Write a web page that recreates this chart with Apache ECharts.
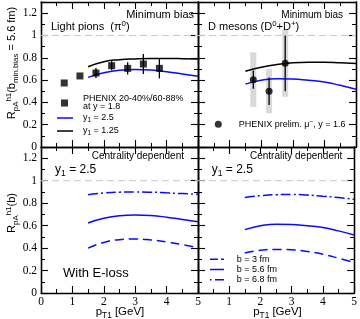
<!DOCTYPE html>
<html><head><meta charset="utf-8">
<script src="https://cdn.jsdelivr.net/npm/echarts@6/dist/echarts.min.js"></script>
<style>html,body{margin:0;padding:0;background:#fff}#c{width:360px;height:319px}</style>
</head><body><div id="c"></div>
<script>
// ---- data ----
const xCurve = [1.5, 2, 2.5, 3, 3.5, 4, 4.5, 5];
const xTicks = [0, 1, 2, 3, 4, 5];
const yTicks = [0, 0.2, 0.4, 0.6, 0.8, 1, 1.2];
// minimum bias, light pions
const piMB_y125 = [0.72, 0.765, 0.783, 0.79, 0.793, 0.793, 0.792, 0.79];
const piMB_y25  = [0.624, 0.665, 0.688, 0.695, 0.69, 0.675, 0.655, 0.634];
const phenixPiX = [0.74, 1.24, 1.75, 2.25, 2.76, 3.26, 3.77];
const phenixPiY = [0.574, 0.637, 0.663, 0.729, 0.705, 0.744, 0.705];
const phenixPiErr = [0, 0, 0.045, 0.04, 0.055, 0.09, 0.09];
// minimum bias, D mesons
const dMB_y125 = [0.68, 0.715, 0.74, 0.755, 0.76, 0.76, 0.755, 0.749];
const dMB_y25  = [0.564, 0.598, 0.612, 0.61, 0.598, 0.583, 0.553, 0.517];
const phenixMuX = [1.75, 2.25, 2.76];
const phenixMuY = [0.604, 0.50, 0.75];
const phenixMuStat = [0.082, 0.124, 0.25];
const phenixMuSys = [0.245, 0.198, 0.30];
// centrality dependent, light pions (y1 = 2.5)
const piCD_b3  = [0.40, 0.45, 0.475, 0.48, 0.472, 0.455, 0.43, 0.405];
const piCD_b56 = [0.624, 0.665, 0.688, 0.695, 0.69, 0.675, 0.655, 0.634];
const piCD_b68 = [0.875, 0.89, 0.898, 0.9, 0.898, 0.892, 0.885, 0.879];
// centrality dependent, D mesons (y1 = 2.5)
const dCD_b3  = [0.357, 0.38, 0.388, 0.385, 0.37, 0.345, 0.31, 0.271];
const dCD_b56 = [0.564, 0.598, 0.612, 0.61, 0.598, 0.583, 0.553, 0.517];
const dCD_b68 = [0.85, 0.866, 0.875, 0.877, 0.872, 0.862, 0.85, 0.834];
const refLine = [[0, 1], [5, 1]];

// ---- chart ----
const chart = echarts.init(document.getElementById('c'), null, {renderer: 'canvas', width: 360, height: 319});
const SANS = 'Liberation Sans', SERIF = 'Liberation Serif';
const BLUE = '#0a0aff';

const grids = [
  {left: 41, top: 2, width: 157, height: 145},
  {left: 198, top: 2, width: 158, height: 145},
  {left: 41, top: 147, width: 157, height: 146},
  {left: 198, top: 147, width: 158, height: 146}
];

function xAx(g, pos, labels, hideZero) {
  return {type: 'value', gridIndex: g, position: pos, min: 0, max: 5, interval: 1,
    axisLine: {onZero: false, lineStyle: {color: '#000', width: 1.3}},
    axisTick: {inside: true, length: 7, lineStyle: {color: '#000', width: 1.1}},
    minorTick: {show: true, splitNumber: 2, length: 4, lineStyle: {color: '#000', width: 1}},
    splitLine: {show: false}, minorSplitLine: {show: false},
    axisLabel: {show: labels, color: '#000', fontFamily: SERIF, fontSize: 11.5, margin: 3,
      formatter: v => (hideZero && v === xTicks[0]) ? '' : (xTicks.indexOf(v) >= 0 ? String(v) : '')}};
}
function yAx(g, pos, major, labels) {
  return {type: 'value', gridIndex: g, position: pos, min: 0, max: 1.3, interval: major ? 0.2 : 0.1,
    axisLine: {onZero: false, lineStyle: {color: '#000', width: 1.3}},
    axisTick: {inside: true, length: major ? 7 : 4, lineStyle: {color: '#000', width: major ? 1.1 : 1}},
    splitLine: {show: false},
    axisLabel: {show: labels, color: '#000', fontFamily: SERIF, fontSize: 11.5, margin: 4,
      formatter: v => { const t = yTicks.find(t => Math.abs(t - v) < 1e-6); return t === undefined ? '' : String(t); }}};
}
const xAxis = [], yAxis = [];
for (let g = 0; g < 4; g++) {
  xAxis.push(xAx(g, 'bottom', g >= 2, g === 3));
  xAxis.push(xAx(g, 'top', false, false));
  yAxis.push(yAx(g, 'left', true, g === 0 || g === 2));
  yAxis.push(yAx(g, 'left', false, false));
  yAxis.push(yAx(g, 'right', true, false));
  yAxis.push(yAx(g, 'right', false, false));
}

const series = [];
function curve(name, g, ys, color, type) {
  series.push({type: 'line', name, xAxisIndex: 2 * g, yAxisIndex: 4 * g,
    data: xCurve.map((x, i) => [x, ys[i]]), smooth: true, symbol: 'none', silent: true,
    lineStyle: {color, width: 1.5, type: type || 'solid'}, itemStyle: {color}, z: 3});
}
for (let g = 0; g < 4; g++) {
  series.push({type: 'line', xAxisIndex: 2 * g, yAxisIndex: 4 * g, data: refLine, symbol: 'none', silent: true,
    lineStyle: {color: '#c8c8c8', width: 1, type: [7, 4]}, z: 1});
}
// grey systematic bands (top-right)
series.push({type: 'custom', xAxisIndex: 2, yAxisIndex: 4, silent: true, z: 2,
  data: phenixMuX.map((x, i) => [x, phenixMuY[i] - phenixMuSys[i], phenixMuY[i] + phenixMuSys[i]]),
  renderItem: (p, api) => {
    const lo = api.coord([api.value(0), api.value(1)]), hi = api.coord([api.value(0), api.value(2)]);
    return {type: 'rect', shape: {x: lo[0] - 3, y: hi[1], width: 6, height: lo[1] - hi[1]}, style: {fill: '#d9d9d9'}};
  }});
curve('y1 = 2.5', 0, piMB_y25, BLUE);
curve('y1 = 1.25', 0, piMB_y125, '#000');
curve('y1 = 2.5', 1, dMB_y25, BLUE);
curve('y1 = 1.25', 1, dMB_y125, '#000');
curve('b = 3 fm', 2, piCD_b3, BLUE, [9, 5]);
curve('b = 5.6 fm', 2, piCD_b56, BLUE);
curve('b = 6.8 fm', 2, piCD_b68, BLUE, [10, 3, 2, 3]);
curve('b = 3 fm', 3, dCD_b3, BLUE, [9, 5]);
curve('b = 5.6 fm', 3, dCD_b56, BLUE);
curve('b = 6.8 fm', 3, dCD_b68, BLUE, [10, 3, 2, 3]);

function errBars(xa, ya, xs, ys, es) {
  series.push({type: 'custom', xAxisIndex: xa, yAxisIndex: ya, silent: true, z: 4,
    data: xs.map((x, i) => [x, ys[i] - es[i], ys[i] + es[i]]),
    renderItem: (p, api) => {
      const lo = api.coord([api.value(0), api.value(1)]), hi = api.coord([api.value(0), api.value(2)]);
      return {type: 'line', shape: {x1: lo[0], y1: lo[1], x2: hi[0], y2: hi[1]}, style: {stroke: '#000', lineWidth: 1.3}};
    }});
}
errBars(0, 0, phenixPiX, phenixPiY, phenixPiErr);
errBars(2, 4, phenixMuX, phenixMuY, phenixMuStat);
series.push({type: 'scatter', name: 'PHENIX 20-40%/60-88%', xAxisIndex: 0, yAxisIndex: 0, silent: true, z: 5,
  symbol: 'rect', symbolSize: 7, itemStyle: {color: '#000'}, data: phenixPiX.map((x, i) => [x, phenixPiY[i]])});
series.push({type: 'scatter', name: 'PHENIX prelim.', xAxisIndex: 2, yAxisIndex: 4, silent: true, z: 5,
  symbol: 'circle', symbolSize: 7, itemStyle: {color: '#000'}, data: phenixMuX.map((x, i) => [x, phenixMuY[i]])});

const subRich = s => ({
  sub: {fontSize: s * 0.72, lineHeight: s * 0.72, verticalAlign: 'bottom', fontFamily: SANS, fill: '#000', color: '#000'},
  sup: {fontSize: s * 0.72, lineHeight: s * 0.72, verticalAlign: 'top', fontFamily: SANS, fill: '#000', color: '#000'}
});
// legend line-sample icons (solid / dashed / dash-dot)
const ICON_SOLID16 = 'path://M0,0H16V1.5H0Z';
const ICON_SOLID14 = 'path://M0,0H14V1.5H0Z';
const ICON_DASH14 = 'path://M0,0H8V1.5H0Z M11,0H14V1.5H11Z';
const ICON_DASHDOT14 = 'path://M0,0H1.6V1.5H0Z M5,0H14V1.5H5Z';

function legendBase(data, left, top, w, h, icon, pad, fs, lh, fmt) {
  const lg = {data, left, top, orient: 'vertical', padding: 0, itemGap: 0.2, itemWidth: w, itemHeight: h,
    selectedMode: false,
    textStyle: {fontSize: fs, fontFamily: SANS, color: '#000', lineHeight: lh, padding: [0, 0, 0, pad], rich: subRich(fs)},
    formatter: fmt};
  if (icon) lg.icon = icon;
  return lg;
}
const legend = [
  legendBase(['PHENIX 20-40%/60-88%'], 61, 94.5, 7, 7, 'rect', 10, 9, 8, n => 'PHENIX 20-40%/60-88%\nat y = 1.8'),
  legendBase([{name: 'y1 = 2.5', icon: ICON_SOLID16}], 57, 113, 16, 1.5, null, 5, 9, 10, n => 'y{sub|1} = 2.5'),
  legendBase([{name: 'y1 = 1.25', icon: ICON_SOLID16}], 57, 126, 16, 1.5, null, 5, 9, 10, n => 'y{sub|1} = 1.25'),
  legendBase(['PHENIX prelim.'], 214.8, 119.3, 7, 7, 'circle', 12, 9, 10, n => 'PHENIX prelim. μ{sup|−}, y = 1.6'),
  legendBase([{name: 'b = 3 fm', icon: ICON_DASH14}, {name: 'b = 5.6 fm', icon: ICON_SOLID14},
              {name: 'b = 6.8 fm', icon: ICON_DASHDOT14}], 210, 254.3, 14, 1.5, null, 7.7, 9, 10, n => n)
];

function txt(x, y, text, size, align, rot) {
  const el = {type: 'text', x, y, silent: true, z: 10,
    style: {x: 0, y: 0, text, fill: '#000', fontSize: size, fontFamily: SANS,
      align: align || 'left', verticalAlign: 'middle', textAlign: align || 'left', textVerticalAlign: 'middle',
      lineHeight: Math.round(size * 1.4), rich: subRich(size)}};
  if (rot) el.rotation = Math.PI / 2;
  return el;
}
const graphic = [
  txt(51, 27, 'Light pions  (π{sup|0})', 11),
  txt(194, 15, 'Minimum bias', 11, 'right'),
  txt(208, 27, 'D mesons (D{sup|0}+D{sup|+})', 11),
  txt(343, 15, 'Minimum bias', 10, 'right'),
  txt(91.7, 156, 'Centrality dependent', 10),
  txt(250, 156, 'Centrality dependent', 10),
  txt(55, 170, 'y{sub|1} = 2.5', 12),
  txt(211.7, 170, 'y{sub|1} = 2.5', 12),
  txt(63, 273, 'With E-loss', 13),
  txt(120, 312, 'p{sub|T1} [GeV]', 11.5, 'center'),
  txt(277.5, 312, 'p{sub|T1} [GeV]', 11.5, 'center'),
  txt(12, 63, 'R{sub|pA}{sup|h1}(b{sub|min.bias} = 5.6 fm)', 11, 'center', true),
  txt(12, 213, 'R{sub|pA}{sup|h1}(b)', 11, 'center', true)
];

chart.setOption({animation: false, backgroundColor: '#fff', grid: grids, xAxis, yAxis, series, legend, graphic});
</script></body></html>
